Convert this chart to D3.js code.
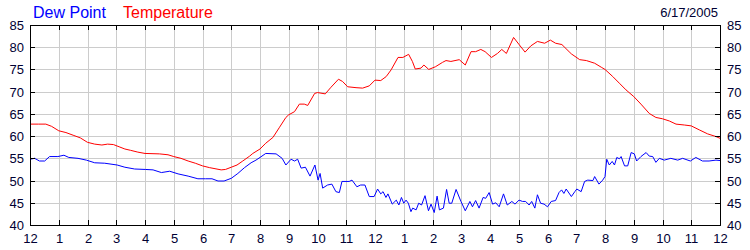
<!DOCTYPE html>
<html>
<head>
<meta charset="utf-8">
<script src="https://cdn.jsdelivr.net/npm/d3@7"></script>
<style>
  body { margin: 0; background: #fff; }
  svg { display: block; font-family: "Liberation Sans", Arial, sans-serif; }
  .grid line { stroke: #cccccc; }
  .grid .domain { display: none; }
  .frame text { fill: #000033; font-size: 13px; font-family: "Liberation Sans", Arial, sans-serif; }
  .frame line, .frame path { stroke: #000; }
</style>
</head>
<body>
<svg width="750" height="250"></svg>
<script>
// hours after midnight and readings (deg F)
const tempHours = [0,0.3,0.55,0.75,1,1.25,1.5,1.75,2,2.25,2.5,2.7,2.9,3.1,3.3,3.5,3.75,4,4.5,4.8,5,5.25,5.5,5.75,6,6.25,6.65,6.8,7,7.2,7.4,7.64,7.75,8,8.2,8.45,8.68,8.9,9,9.2,9.37,9.54,9.66,9.9,10,10.27,10.47,10.73,10.87,11.05,11.34,11.57,11.8,12,12.2,12.39,12.56,12.8,12.97,13.17,13.3,13.4,13.6,13.7,13.87,14.1,14.35,14.47,14.64,14.93,15.14,15.34,15.5,15.68,15.83,16.05,16.26,16.41,16.57,16.82,17,17.22,17.42,17.65,17.9,18.1,18.28,18.5,18.75,18.83,19.12,19.35,19.64,19.87,20,20.27,20.5,20.73,21,21.25,21.54,21.77,22,22.24,22.47,22.76,23,23.28,23.57,23.86,24];
const tempValues = [62.7,62.7,62.7,62.2,61.2,60.8,60.2,59.6,58.6,58.2,58.0,58.2,58.1,57.6,57.1,56.8,56.4,56.1,56.0,55.8,55.4,55.0,54.4,53.9,53.3,52.9,52.4,52.5,53.0,53.5,54.4,55.5,56.1,57.1,58.4,59.7,62.0,64.2,64.8,65.5,67.2,67.2,66.9,69.6,69.8,69.5,71.0,72.8,72.3,71.1,70.9,70.8,71.3,72.6,72.5,73.4,74.9,77.7,77.7,78.4,76.8,75.1,75.3,76.0,75.0,75.6,76.6,77.0,76.8,77.2,76.0,79.0,79.0,79.5,79.0,77.7,78.6,79.5,78.6,82.2,80.7,78.9,80.3,81.3,80.9,81.6,80.9,80.6,79.0,78.5,77.2,77.0,76.4,75.5,75.0,73.4,71.9,70.4,68.9,67.2,65.1,64.2,63.9,63.4,62.7,62.5,62.3,61.4,60.5,59.9,59.5];

const dewHours = [0,0.16,0.33,0.51,0.68,0.97,1.18,1.35,1.67,1.96,2.25,2.6,3.03,3.3,3.64,4.01,4.28,4.57,4.86,5.15,5.5,5.84,6.1,6.33,6.54,6.75,7,7.23,7.46,7.69,7.86,8,8.2,8.56,8.77,8.9,9.08,9.2,9.31,9.43,9.58,9.74,9.91,10.02,10.09,10.18,10.35,10.5,10.64,10.76,10.85,11.1,11.2,11.37,11.5,11.65,11.8,11.97,12.09,12.2,12.28,12.38,12.45,12.6,12.74,12.83,12.92,13,13.08,13.16,13.25,13.31,13.43,13.52,13.62,13.74,13.86,13.95,14.06,14.16,14.24,14.38,14.49,14.58,14.67,14.82,14.99,15.14,15.3,15.39,15.5,15.62,15.76,15.85,15.97,16.09,16.2,16.32,16.47,16.6,16.76,16.87,17.01,17.13,17.24,17.36,17.45,17.56,17.65,17.76,17.88,18,18.13,18.28,18.4,18.49,18.57,18.65,18.83,18.95,19.02,19.17,19.29,19.4,19.58,19.64,19.79,19.92,20,20.06,20.15,20.25,20.33,20.41,20.5,20.56,20.68,20.79,20.91,21.02,21.1,21.25,21.43,21.54,21.66,21.77,21.89,22.06,22.29,22.53,22.7,22.97,23.16,23.39,23.62,23.86,24];
const dewValues = [54.8,55.0,54.4,54.4,55.4,55.4,55.7,55.2,55.0,54.6,54.0,53.9,53.5,53.0,52.6,52.5,52.4,51.8,52.1,51.5,51.0,50.4,50.4,50.4,49.9,49.9,50.5,51.6,52.9,54.0,54.6,55.2,56.1,56.0,55.0,53.5,54.8,54.4,54.8,52.8,53.0,51.0,53.5,50.1,51.6,48.3,49.0,49.2,47.5,47.3,49.8,49.8,50.1,48.6,49.0,49.0,46.4,46.4,48.1,47.0,47.5,46.2,47.0,44.7,45.6,44.5,46.2,44.9,45.6,44.9,43.0,43.8,43.4,44.9,44.5,46.6,43.2,44.7,42.8,46.5,43.4,43.8,48.0,44.9,44.9,48.0,45.3,43.2,45.3,44.1,45.5,43.8,46.2,46.0,47.3,44.7,45.0,44.1,47.0,44.5,45.3,44.7,45.6,45.3,45.3,44.5,45.3,43.8,46.8,44.9,44.7,44.1,45.3,45.5,47.3,47.9,47.1,48.1,46.4,47.5,48.1,47.5,49.8,50.1,50.0,50.9,49.2,50.1,50.9,54.8,53.5,54.3,53.5,55.2,54.9,55.4,53.3,53.3,56.3,56.0,54.4,55.4,56.3,55.5,55.4,54.1,55.0,54.6,55.0,54.6,55.0,54.4,55.2,54.4,54.4,54.6,54.5];

const hourLabels = ['12','1','2','3','4','5','6','7','8','9','10','11','12','1','2','3','4','5','6','7','8','9','10','11','12'];
const yTicks = [40,45,50,55,60,65,70,75,80,85];
const dateLabel = '6/17/2005';

const svg = d3.select('svg');
const margin = { top: 25, bottom: 25, left: 30, right: 30 };
const width = +svg.attr('width');
const height = +svg.attr('height');
const innerWidth = width - margin.left - margin.right;
const innerHeight = height - margin.top - margin.bottom;

const xScale = d3.scaleLinear().domain([0, 24]).range([0, innerWidth]);
const yScale = d3.scaleLinear().domain([40, 85]).range([innerHeight, 0]);
const xTick = xScale.copy().interpolate(d3.interpolateRound);   // pixel-snapped for ticks/grid
const yTick = yScale.copy().interpolate(d3.interpolateRound);

const g = svg.append('g').attr('transform', `translate(${margin.left},${margin.top})`);
const hourTicks = d3.range(0, 25);

// grid
g.append('g').attr('class', 'grid')
  .call(d3.axisBottom(xTick).tickValues(hourTicks).tickSize(innerHeight).tickFormat(''));
g.append('g').attr('class', 'grid')
  .call(d3.axisRight(yTick).tickValues(yTicks).tickSize(innerWidth).tickFormat(''));
g.selectAll('.grid text').remove();

// series
const line = d3.line().x(d => xScale(d[0])).y(d => yScale(d[1]));
g.append('path')
  .attr('d', line(d3.zip(dewHours, dewValues)))
  .attr('fill', 'none').attr('stroke', '#0000ff').attr('stroke-width', 1);
g.append('path')
  .attr('d', line(d3.zip(tempHours, tempValues)))
  .attr('fill', 'none').attr('stroke', '#ff0000').attr('stroke-width', 1);

// frame axes, ticks pointing inward
const frame = g.append('g').attr('class', 'frame-all');
frame.append('g').attr('class', 'frame')
  .call(d3.axisLeft(yTick).tickValues(yTicks).tickSize(-5).tickPadding(6).tickFormat(d3.format('d')));
frame.append('g').attr('class', 'frame')
  .attr('transform', `translate(${innerWidth},0)`)
  .call(d3.axisRight(yTick).tickValues(yTicks).tickSize(-5).tickPadding(7).tickFormat(d3.format('d')));
frame.append('g').attr('class', 'frame')
  .attr('transform', `translate(0,${innerHeight})`)
  .call(d3.axisBottom(xTick).tickValues(hourTicks).tickSize(-5).tickPadding(9).tickFormat(i => hourLabels[i]));
frame.append('g').attr('class', 'frame top')
  .call(d3.axisTop(xTick).tickValues(hourTicks).tickSize(-5).tickFormat(''));
frame.selectAll('.top text').remove();

frame.selectAll('.frame')
  .attr('font-family', null).attr('font-size', null);

// legend + date
svg.append('text').attr('x', 33).attr('y', 18)
  .attr('fill', '#0000ff').style('font-size', '16px').text('Dew Point');
svg.append('text').attr('x', 123).attr('y', 18)
  .attr('fill', '#ff0000').style('font-size', '16px').text('Temperature');
svg.append('text').attr('x', 718).attr('y', 17)
  .attr('text-anchor', 'end').attr('fill', '#000033').style('font-size', '13px').text(dateLabel);
</script>
</body>
</html>
